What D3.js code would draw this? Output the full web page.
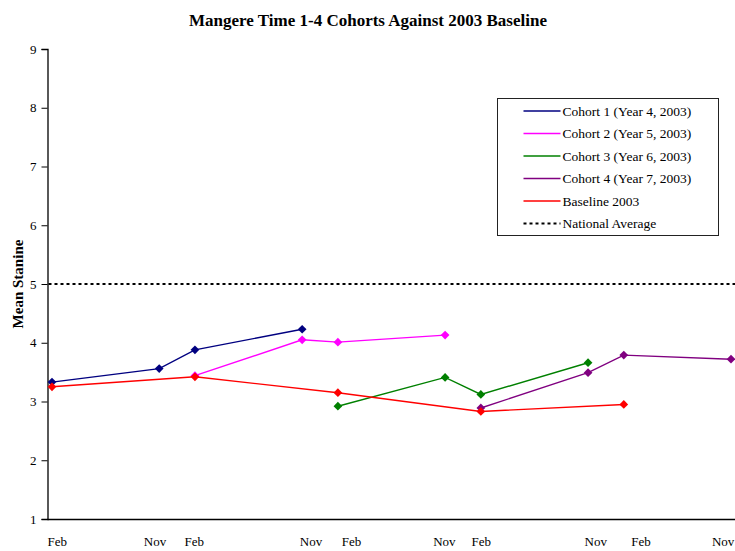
<!DOCTYPE html>
<html>
<head>
<meta charset="utf-8">
<script src="https://cdn.jsdelivr.net/npm/d3@7"></script>
<style>
  body { margin: 0; background: #fff; }
  svg text { font-family: "Liberation Serif", "Times New Roman", serif; fill: #000; }
</style>
</head>
<body>
<div id="chart"></div>
<script>
// months counted from Feb 2003
const cohort1Months = [0, 9, 12, 21];
const cohort1Values = [3.33, 3.56, 3.88, 4.23];
const cohort2Months = [12, 21, 24, 33];
const cohort2Values = [3.44, 4.05, 4.01, 4.13];
const cohort3Months = [24, 33, 36, 45];
const cohort3Values = [2.92, 3.41, 3.12, 3.66];
const cohort4Months = [36, 45, 48, 57];
const cohort4Values = [2.89, 3.49, 3.79, 3.72];
const baselineMonths = [0, 12, 24, 36, 48];
const baselineValues = [3.25, 3.42, 3.15, 2.83, 2.95];
const nationalAverage = 5;

const seriesNames = ["Cohort 1 (Year 4, 2003)", "Cohort 2 (Year 5, 2003)", "Cohort 3 (Year 6, 2003)",
                     "Cohort 4 (Year 7, 2003)", "Baseline 2003"];
const seriesColors = ["#000080", "#ff00ff", "#008000", "#800080", "#ff0000"];

const xTickLabels = ["Feb", "Nov", "Feb", "Nov", "Feb", "Nov", "Feb", "Nov", "Feb", "Nov"];
const xTickMonths = [0.4, 8.6, 11.9, 21.7, 25.1, 32.9, 36, 45.6, 49.4, 56.3];
const yTicks = [1, 2, 3, 4, 5, 6, 7, 8, 9];

const W = 735, H = 551;
const svg = d3.select("#chart").append("svg").attr("width", W).attr("height", H);

const x = d3.scaleLinear().domain([0, 57]).range([52, 731]);
const y = d3.scaleLinear().domain([1, 9]).range([519, 49]);
const axisLeftX = 47.5;

svg.append("text").attr("x", 368).attr("y", 26).attr("text-anchor", "middle")
  .style("font-size", "17px").style("font-weight", "bold")
  .text("Mangere Time 1-4 Cohorts Against 2003 Baseline");

// y axis
const yAxis = svg.append("g").attr("transform", `translate(${axisLeftX},0)`)
  .call(d3.axisLeft(y).tickValues(yTicks).tickSize(6).tickPadding(5).tickFormat(d3.format("d")));
yAxis.select(".domain").attr("stroke", "#000").attr("stroke-width", 1.3);
yAxis.selectAll(".tick line").attr("stroke", "#000");
yAxis.selectAll(".tick text").style("font-size", "13px").style("font-family", '"Liberation Serif", serif').attr("fill", "#222");

svg.append("text").attr("transform", `translate(23,${y(5)}) rotate(-90)`).attr("text-anchor", "middle")
  .style("font-size", "15px").style("font-weight", "bold").text("Mean Stanine");

// x axis
svg.append("line").attr("x1", axisLeftX).attr("x2", W).attr("y1", y(1) + 0.5).attr("y2", y(1) + 0.5)
  .attr("stroke", "#000").attr("stroke-width", 1.3);
const xAxis = svg.append("g").attr("transform", `translate(0,${y(1)})`)
  .call(d3.axisBottom(x).tickValues(xTickMonths).tickSize(0).tickFormat((d, i) => xTickLabels[i]));
xAxis.select(".domain").remove();
xAxis.selectAll(".tick text").attr("y", 27).attr("dy", null)
  .style("font-size", "13px").style("font-family", '"Liberation Serif", serif').attr("fill", "#111");

// national average
svg.append("line").attr("x1", axisLeftX + 1).attr("x2", W).attr("y1", y(nationalAverage)).attr("y2", y(nationalAverage))
  .attr("stroke", "#000").attr("stroke-width", 2).attr("stroke-dasharray", "3,3");

const series = [
  [cohort1Months, cohort1Values], [cohort2Months, cohort2Values], [cohort3Months, cohort3Values],
  [cohort4Months, cohort4Values], [baselineMonths, baselineValues]
].map(([m, v], i) => ({ name: seriesNames[i], color: seriesColors[i], pts: m.map((mm, j) => [mm, v[j]]) }));

const line = d3.line().x(d => x(d[0])).y(d => y(d[1]));
const diamond = d3.symbol(d3.symbolSquare, 38);

series.forEach(s => {
  const g = svg.append("g");
  g.append("path").attr("d", line(s.pts)).attr("fill", "none").attr("stroke", s.color).attr("stroke-width", 1.4);
  g.selectAll("path.m").data(s.pts).join("path").attr("class", "m")
    .attr("d", diamond).attr("fill", s.color)
    .attr("transform", d => `translate(${x(d[0])},${y(d[1])}) rotate(45)`);
});

// legend
const leg = svg.append("g").attr("transform", "translate(497.5,98.5)");
leg.append("rect").attr("width", 221).attr("height", 137).attr("fill", "#fff").attr("stroke", "#222").attr("stroke-width", 1);
const legItems = series.map(s => ({ name: s.name, color: s.color, dash: null }))
  .concat([{ name: "National Average", color: "#000", dash: "3,3" }]);
legItems.forEach((d, i) => {
  const yy = 12.5 + i * 22.5;
  leg.append("line").attr("x1", 26).attr("x2", 63).attr("y1", yy).attr("y2", yy)
    .attr("stroke", d.color).attr("stroke-width", d.dash ? 2 : 1.4).attr("stroke-dasharray", d.dash);
  leg.append("text").attr("x", 65).attr("y", yy + 4.5).style("font-size", "13.5px").text(d.name);
});
</script>
</body>
</html>
